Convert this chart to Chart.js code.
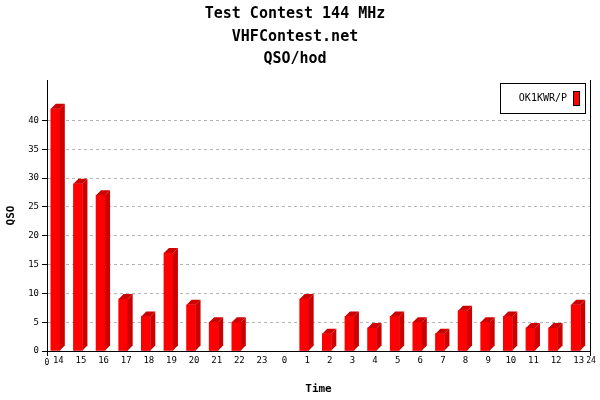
<!DOCTYPE html>
<html>
<head>
<meta charset="utf-8">
<script src="https://cdn.jsdelivr.net/npm/chart.js@4/dist/chart.umd.min.js"></script>
<style>
  html, body { margin: 0; padding: 0; background: #fff; }
  #wrap { width: 600px; height: 400px; }
</style>
</head>
<body>
<div id="wrap"><canvas id="c" width="600" height="400"></canvas></div>
<script>
// ---- data ----
const titleLines = ['Test Contest 144 MHz', 'VHFContest.net', 'QSO/hod'];
const hours = ['14','15','16','17','18','19','20','21','22','23','0','1','2','3','4','5','6','7','8','9','10','11','12','13'];
const qso = [42, 29, 27, 9, 6, 17, 8, 5, 5, 0, 0, 9, 3, 6, 4, 6, 5, 3, 7, 5, 6, 4, 4, 8];
const seriesName = 'OK1KWR/P';
const yTicks = [0, 5, 10, 15, 20, 25, 30, 35, 40];
const xEdgeLabels = ['0', '24'];
const yAxisTitle = 'QSO';
const xAxisTitle = 'Time';

const FRONT = '#ff0000';
const DARK = '#cc0000';
const MONO = "'DejaVu Sans Mono', 'Liberation Mono', monospace";
const SHIFT = -3;   // front face sits left of the slot centre
const DEPTH = 5;

const bar3d = {
  id: 'bar3d',
  beforeDatasetsDraw(chart) {
    chart.ctx.save();
    chart.ctx.translate(SHIFT, 0);
  },
  afterDatasetsDraw(chart) {
    const ctx = chart.ctx;
    const meta = chart.getDatasetMeta(0);
    meta.data.forEach((el, i) => {
      if (!qso[i]) return;
      const p = el.getProps(['x', 'y', 'base', 'width'], true);
      const l = p.x - p.width / 2, r = p.x + p.width / 2;
      ctx.fillStyle = DARK;
      // side face
      ctx.beginPath();
      ctx.moveTo(r, p.y);
      ctx.lineTo(r + DEPTH, p.y - DEPTH);
      ctx.lineTo(r + DEPTH, p.base - DEPTH);
      ctx.lineTo(r, p.base);
      ctx.closePath();
      ctx.fill();
      // top face
      ctx.beginPath();
      ctx.moveTo(l, p.y);
      ctx.lineTo(l + DEPTH, p.y - DEPTH);
      ctx.lineTo(r + DEPTH, p.y - DEPTH);
      ctx.lineTo(r, p.y);
      ctx.closePath();
      ctx.fill();
    });
    ctx.restore();
  },
  afterDraw(chart) {
    const ctx = chart.ctx;
    const a = chart.chartArea;
    ctx.save();
    // right frame line and end ticks
    ctx.strokeStyle = '#000';
    ctx.lineWidth = 1;
    ctx.beginPath();
    ctx.moveTo(Math.round(a.right) + 0.5, a.top);
    ctx.lineTo(Math.round(a.right) + 0.5, a.bottom + 5);
    ctx.moveTo(Math.round(a.left) + 0.5, a.bottom);
    ctx.lineTo(Math.round(a.left) + 0.5, a.bottom + 5);
    ctx.stroke();
    // edge labels of the time axis
    ctx.fillStyle = '#000';
    ctx.font = "8px " + MONO;
    ctx.textAlign = 'center';
    ctx.textBaseline = 'middle';
    ctx.fillText(xEdgeLabels[0], a.left, a.bottom + 12);
    ctx.fillText(xEdgeLabels[1], a.right + 1, a.bottom + 10);
    // legend
    const lx = 500, ly = 83, lw = 85, lh = 30;
    ctx.fillStyle = '#fff';
    ctx.fillRect(lx, ly, lw, lh);
    ctx.strokeStyle = '#000';
    ctx.strokeRect(lx + 0.5, ly + 0.5, lw, lh);
    ctx.fillStyle = '#000';
    ctx.font = "10px " + MONO;
    ctx.textAlign = 'right';
    ctx.textBaseline = 'middle';
    ctx.fillText(chart.data.datasets[0].label, 567, ly + 15);
    ctx.fillStyle = FRONT;
    ctx.fillRect(573, 91, 7, 15);
    ctx.strokeRect(573.5, 91.5, 6, 14);
    ctx.restore();
  }
};

new Chart(document.getElementById('c'), {
  type: 'bar',
  data: {
    labels: hours,
    datasets: [{
      label: seriesName,
      data: qso,
      backgroundColor: (c) => (c.raw ? FRONT : 'rgba(0,0,0,0)'),
      borderWidth: 0,
      barThickness: 9
    }]
  },
  plugins: [bar3d],
  options: {
    responsive: false,
    animation: false,
    devicePixelRatio: 1,
    layout: { padding: { left: 0, right: 10, top: 0, bottom: 0 } },
    plugins: {
      legend: { display: false },
      tooltip: { enabled: false },
      title: {
        display: true,
        text: titleLines,
        color: '#000',
        font: { family: MONO, size: 15, weight: 'bold', lineHeight: 1.5 },
        padding: { top: 3, bottom: 9.5 }
      }
    },
    scales: {
      x: {
        type: 'category',
        grid: { display: true, drawOnChartArea: false, drawTicks: false },
        border: { display: true, color: '#000', width: 1 },
        ticks: { color: '#000', font: { family: MONO, size: 9 }, padding: 4, maxRotation: 0, autoSkip: false },
        title: { display: true, text: xAxisTitle, color: '#000', font: { family: MONO, size: 11, weight: 'bold' }, padding: { top: 4, bottom: 4 } },
        afterFit(scale) { scale.height = 49; }
      },
      y: {
        min: 0,
        max: 47,
        afterBuildTicks(scale) { scale.ticks = yTicks.map(v => ({ value: v })); },
        grid: {
          color: (c) => (c.tick && c.tick.value === 0) ? 'rgba(0,0,0,0)' : '#b4b4b4',
          tickColor: '#000',
          tickLength: 5,
          tickBorderDash: [],
          lineWidth: 1
        },
        border: { display: true, color: '#000', width: 1, dash: [3, 3] },
        ticks: { color: '#000', font: { family: MONO, size: 9 }, padding: 3 },
        title: { display: true, text: yAxisTitle, color: '#000', font: { family: MONO, size: 11, weight: 'bold' }, padding: { top: 5, bottom: 5 } },
        afterFit(scale) { scale.width = 47; }
      }
    }
  }
});
</script>
</body>
</html>
